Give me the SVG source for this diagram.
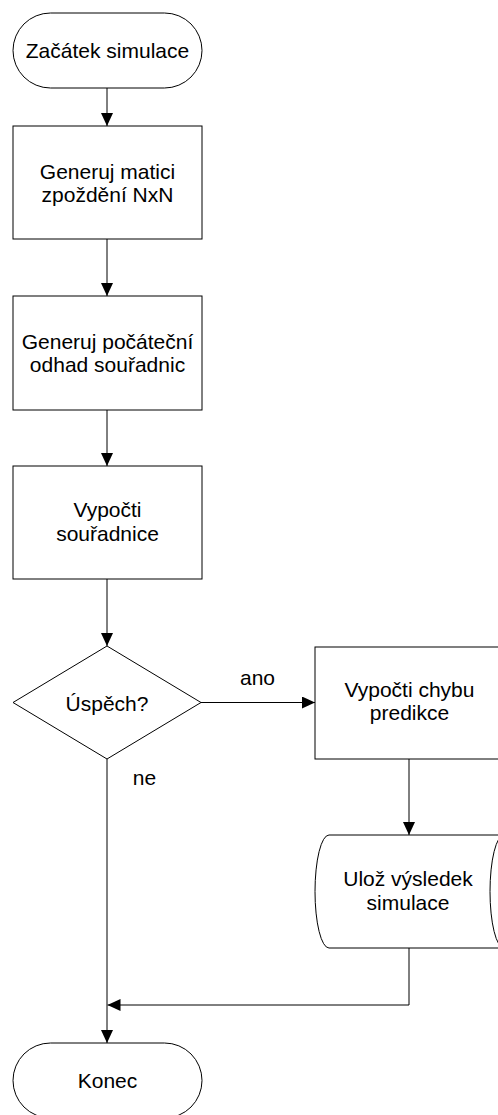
<svg xmlns="http://www.w3.org/2000/svg" width="498" height="1115" viewBox="0 0 498 1115">
<defs>
<style>
.s{fill:#fff;stroke:#000;stroke-width:1}
.t{font-family:"Liberation Sans",Arial,sans-serif;font-size:21px;fill:#000;text-anchor:middle}
.c{fill:none;stroke:#000;stroke-width:1}
</style>
<marker id="ah" markerWidth="13" markerHeight="12" refX="13" refY="6" orient="auto" markerUnits="userSpaceOnUse">
<path d="M0,0 L13,6 L0,12 Z" fill="#000"/>
</marker>
</defs>
<rect width="498" height="1115" fill="#fff"/>
<g id="connectors">
<path class="c" d="M107,88 V126" marker-end="url(#ah)"/>
<path class="c" d="M107,239 V296" marker-end="url(#ah)"/>
<path class="c" d="M107,410 V466" marker-end="url(#ah)"/>
<path class="c" d="M107,579 V646" marker-end="url(#ah)"/>
<path class="c" d="M201,702.5 H315" marker-end="url(#ah)"/>
<path class="c" d="M409,759 V835" marker-end="url(#ah)"/>
<path class="c" d="M409,948 V1005 H107.5" marker-end="url(#ah)"/>
<path class="c" d="M107,759 V1043" marker-end="url(#ah)"/>
<text class="t" x="257.5" y="685">ano</text>
<text class="t" x="144.5" y="785">ne</text>
</g>
<g id="start">
<rect class="s" x="13" y="13" width="189" height="75" rx="37.5" ry="37.5"/>
<text class="t" x="107.5" y="58">Začátek simulace</text>
</g>
<g id="gen-matrix">
<rect class="s" x="13" y="126" width="189" height="113"/>
<text class="t" x="107.5" y="178.5">Generuj matici</text>
<text class="t" x="107.5" y="201.5">zpoždění NxN</text>
</g>
<g id="gen-estimate">
<rect class="s" x="13" y="296" width="189" height="114"/>
<text class="t" x="107.5" y="349">Generuj počáteční</text>
<text class="t" x="107.5" y="372">odhad souřadnic</text>
</g>
<g id="compute">
<rect class="s" x="13" y="466" width="189" height="113"/>
<text class="t" x="107.5" y="517">Vypočti</text>
<text class="t" x="107.5" y="540.5">souřadnice</text>
</g>
<g id="success">
<path class="s" d="M107,646 L201,702.5 L107,759 L13,702.5 Z"/>
<text class="t" x="107" y="710.5">Úspěch?</text>
</g>
<g id="error">
<rect class="s" x="315" y="647" width="189" height="112"/>
<text class="t" x="409.5" y="697">Vypočti chybu</text>
<text class="t" x="409.5" y="720">predikce</text>
</g>
<g id="store">
<path class="s" d="M329,835 H504 A14,56.5 0 0 0 504,948 H329 A14,56.5 0 0 1 329,835 Z"/>
<text class="t" x="408" y="885.5">Ulož výsledek</text>
<text class="t" x="408" y="909.5">simulace</text>
</g>
<g id="end">
<rect class="s" x="13" y="1043" width="189" height="75" rx="37.5" ry="37.5"/>
<text class="t" x="107.5" y="1087.5">Konec</text>
</g>
</svg>
